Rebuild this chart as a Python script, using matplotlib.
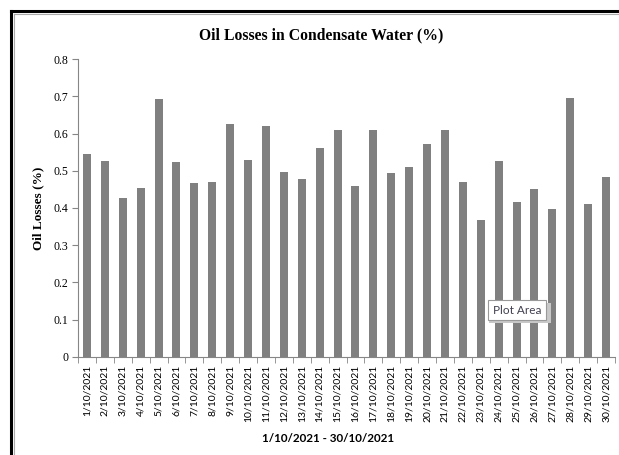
import matplotlib.pyplot as plt
from matplotlib.lines import Line2D
from matplotlib.patches import Rectangle
import numpy as np

days = ["%d/10/2021" % d for d in range(1, 31)]
losses = [0.546, 0.526, 0.428, 0.455, 0.692, 0.523, 0.467, 0.470, 0.626, 0.528,
          0.621, 0.496, 0.478, 0.562, 0.610, 0.459, 0.610, 0.494, 0.509, 0.573,
          0.610, 0.470, 0.367, 0.526, 0.417, 0.451, 0.398, 0.695, 0.412, 0.483]
yticks = [0, 0.1, 0.2, 0.3, 0.4, 0.5, 0.6, 0.7, 0.8]

W, H = 619, 455
fig = plt.figure(figsize=(W / 100, H / 100), dpi=100)
ax = fig.add_axes([78 / W, 1 - 356.7 / H, (615 - 78) / W, (356.7 - 59.3) / H])

x = np.arange(len(days))
ax.bar(x, losses, width=0.45, color='#808080')
ax.set_xlim(-0.5, len(days) - 0.5)
ax.set_ylim(0, 0.8)
ax.set_yticks(yticks)
ax.set_yticklabels(["0"] + ["%.1f" % v for v in yticks[1:]],
                   fontfamily='Liberation Serif', fontsize=8.5)
ax.set_xticks(x)
ax.set_xticklabels(days, rotation=90, fontfamily='Lato', fontsize=7.5)
ax.set_xticks(np.arange(-0.5, len(days), 1), minor=True)
ax.tick_params(axis='x', which='major', length=0, pad=6)
ax.tick_params(axis='x', which='minor', length=4, color='#868686')
ax.tick_params(axis='y', length=4, color='#868686', pad=3)
for s in ['top', 'right']:
    ax.spines[s].set_visible(False)
for s in ['left', 'bottom']:
    ax.spines[s].set_color('#868686')
    ax.spines[s].set_linewidth(0.8)

fig.text(321 / W, 1 - 35 / H, "Oil Losses in Condensate Water (%)",
         ha='center', va='center', fontfamily='Liberation Serif',
         fontweight='bold', fontsize=11.3)
fig.text(38 / W, 1 - 208 / H, "Oil Losses (%)", rotation=90,
         ha='center', va='center', fontfamily='Liberation Serif',
         fontweight='bold', fontsize=9.5)
fig.text(328 / W, 1 - 438 / H, "1/10/2021 - 30/10/2021",
         ha='center', va='center', fontfamily='Lato',
         fontweight='bold', fontsize=8.4)

# tooltip with a soft shadow
fig.add_artist(Rectangle((489 / W, 1 - 323 / H), 62 / W, 20 / H,
                         transform=fig.transFigure, fc='#c8c8c8', ec='none'))
fig.text(517 / W, 1 - 310 / H, "Plot Area", ha='center', va='center',
         fontfamily='Lato', fontsize=8.5, color='#404050',
         bbox=dict(boxstyle='square,pad=0.4', fc='white', ec='#999999', lw=0.8))

# chart border (cut off at right and bottom)
fig.add_artist(Line2D([11 / W, 11 / W], [0, 1 - 11 / H], color='black', lw=2.2))
fig.add_artist(Line2D([11 / W, 1], [1 - 11 / H, 1 - 11 / H], color='black', lw=2.2))
fig.add_artist(Line2D([14 / W, 14 / W], [0, 1 - 14 / H], color='#aaaaaa', lw=0.8))
fig.add_artist(Line2D([14 / W, 1], [1 - 14 / H, 1 - 14 / H], color='#aaaaaa', lw=0.8))

fig.savefig('out.png', dpi=100)
